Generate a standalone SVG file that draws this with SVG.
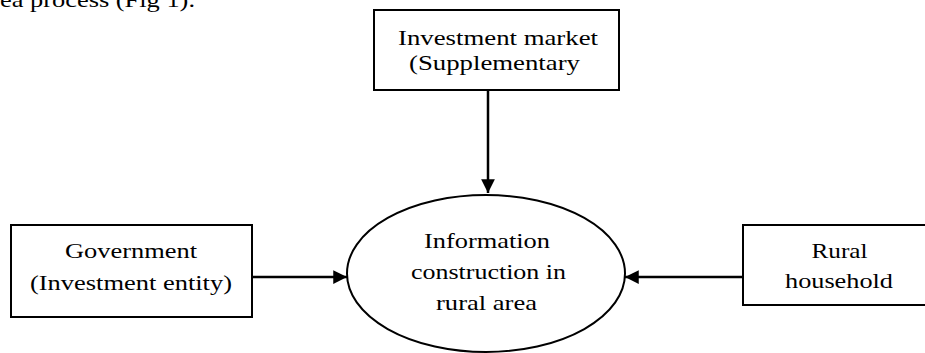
<svg xmlns="http://www.w3.org/2000/svg" width="925" height="353" viewBox="0 0 925 353">
<style>
.box{fill:#fff;stroke:#000;stroke-width:2}
.ell{fill:#fff;stroke:#000;stroke-width:2}
.t{font-family:"Liberation Serif","Times New Roman",serif;font-size:22px;fill:#000;text-anchor:middle}
.c{stroke:#000;stroke-width:2.5;fill:none}
</style>
<defs>
<marker id="ah" viewBox="0 0 10 10" refX="10" refY="5" markerWidth="6" markerHeight="5.5" markerUnits="strokeWidth" orient="auto">
<path d="M0,0 L10,5 L0,10 Z" fill="#000"/>
</marker>
</defs>
<text x="0" y="7" style="font-family:'Liberation Serif','Times New Roman',serif;font-size:22px" textLength="195" lengthAdjust="spacingAndGlyphs">ea process (Fig 1).</text>
<g id="market">
<rect class="box" x="374" y="10" width="245" height="80"/>
<text class="t" x="498" y="45" textLength="200" lengthAdjust="spacingAndGlyphs">Investment market</text>
<text class="t" x="494.5" y="70" textLength="171" lengthAdjust="spacingAndGlyphs">(Supplementary</text>
</g>
<g id="government">
<rect class="box" x="11" y="225" width="241" height="92"/>
<text class="t" x="131" y="258" textLength="132" lengthAdjust="spacingAndGlyphs">Government</text>
<text class="t" x="131" y="290" textLength="202" lengthAdjust="spacingAndGlyphs">(Investment entity)</text>
</g>
<g id="center">
<ellipse class="ell" cx="486" cy="273.5" rx="139" ry="78.5"/>
<text class="t" x="487" y="248" textLength="126" lengthAdjust="spacingAndGlyphs">Information</text>
<text class="t" x="488.5" y="279" textLength="155" lengthAdjust="spacingAndGlyphs">construction in</text>
<text class="t" x="486.5" y="310" textLength="101" lengthAdjust="spacingAndGlyphs">rural area</text>
</g>
<g id="household">
<rect class="box" x="743" y="225" width="200" height="80"/>
<text class="t" x="839.5" y="258" textLength="56" lengthAdjust="spacingAndGlyphs">Rural</text>
<text class="t" x="839" y="288" textLength="108" lengthAdjust="spacingAndGlyphs">household</text>
</g>
<g id="connectors">
<line class="c" x1="488" y1="90" x2="488" y2="193" marker-end="url(#ah)"/>
<line class="c" x1="252" y1="277" x2="347" y2="277" marker-end="url(#ah)"/>
<line class="c" x1="743" y1="277" x2="625" y2="277" marker-end="url(#ah)"/>
</g>
</svg>
